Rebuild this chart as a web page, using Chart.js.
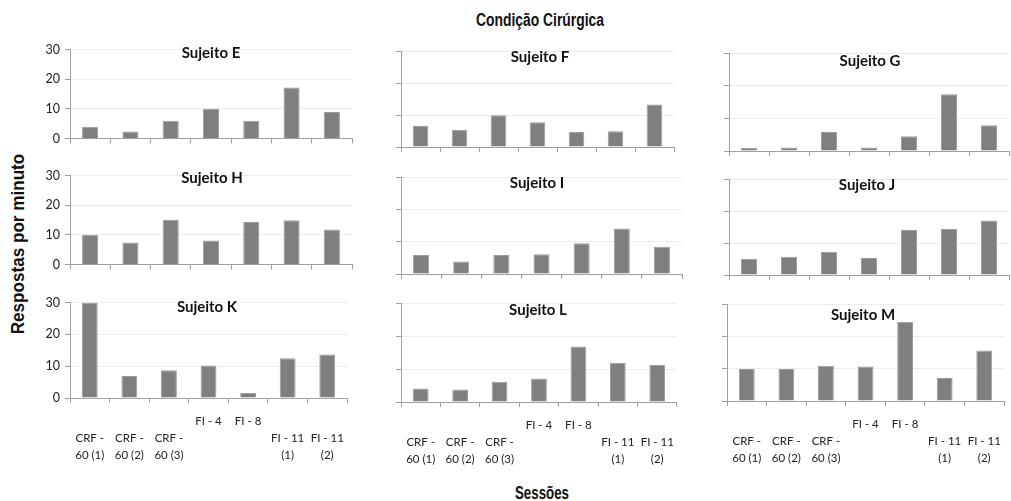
<!DOCTYPE html>
<html><head><meta charset="utf-8">
<script src="https://cdn.jsdelivr.net/npm/chart.js@4"></script>
<style>
html,body{margin:0;padding:0;background:#fff;overflow:hidden;width:1011px;height:501px;}
canvas{position:absolute;}
.t{position:absolute;font-family:"Liberation Sans",Arial,sans-serif;font-weight:bold;color:#111;white-space:nowrap;}
</style></head><body>
<div class="t" style="left:540px;top:20px;transform:translate(-50%,-50%) scaleX(0.77);font-size:18px;">Condição Cirúrgica</div>
<div class="t" style="left:542px;top:493px;transform:translate(-50%,-50%) scaleX(0.74);font-size:18px;">Sessões</div>
<div class="t" style="left:18px;top:244px;transform:translate(-50%,-50%) rotate(-90deg) scaleX(0.9);font-size:19px;">Respostas por minuto</div>
<script>
// ---- data ----
const categories = [["", "CRF -", "60 (1)"], ["", "CRF -", "60 (2)"], ["", "CRF -", "60 (3)"], ["FI - 4"], ["FI - 8"], ["", "FI - 11", "(1)"], ["", "FI - 11", "(2)"]];
const subjects = ["Sujeito E", "Sujeito F", "Sujeito G", "Sujeito H", "Sujeito I", "Sujeito J", "Sujeito K", "Sujeito L", "Sujeito M"];
const valuesE = [4.0, 2.4, 6.0, 10.0, 6.0, 17.2, 8.9];
const valuesF = [6.6, 5.4, 9.9, 7.7, 4.7, 4.9, 13.3];
const valuesG = [1.0, 1.1, 5.8, 1.1, 4.5, 17.4, 7.9];
const valuesH = [10.0, 7.4, 15.1, 8.1, 14.3, 14.9, 11.8];
const valuesI = [5.9, 3.9, 5.9, 6.1, 9.5, 14.1, 8.4];
const valuesJ = [5.1, 5.7, 7.3, 5.3, 14.1, 14.4, 17.0];
const valuesK = [30.0, 6.9, 8.7, 10.2, 1.6, 12.5, 13.7];
const valuesL = [4.1, 3.8, 6.1, 7.1, 16.8, 11.9, 11.2];
const valuesM = [9.9, 9.9, 10.9, 10.7, 24.5, 7.1, 15.6];
const yMin = 0, yMax = 30, yStep = 10;

// ---- layout (plot areas in page pixels) ----
const seriesList = [valuesE, valuesF, valuesG, valuesH, valuesI, valuesJ, valuesK, valuesL, valuesM];
const areas = [
  {l:70, t:47, r:352, b:143, tx:211, ty:6},
  {l:401, t:51, r:674, b:147, tx:540, ty:6},
  {l:729, t:53, r:1009, b:151, tx:870, ty:8},
  {l:70, t:173, r:352, b:269, tx:212, ty:5},
  {l:401, t:177, r:682, b:274, tx:537, ty:6.5},
  {l:729, t:179, r:1009, b:275, tx:867, ty:6.5},
  {l:70, t:300, r:352, b:398, tx:207, ty:7.5},
  {l:401, t:303, r:682, b:402, tx:538, ty:7},
  {l:727, t:304, r:1009, b:401, tx:863, ty:11}
];
const YW = 40, PT = 10, PR = 2;

const titlePlugin = {
  id: 'ptitle',
  afterDraw(chart, args, o) {
    const ctx = chart.ctx;
    ctx.save();
    ctx.font = 'bold 15px Lato, "Open Sans", sans-serif';
    ctx.fillStyle = '#111';
    ctx.textAlign = 'center';
    ctx.textBaseline = 'middle';
    ctx.fillText(o.text, o.x, o.y);
    ctx.restore();
  }
};

Chart.defaults.font.family = 'Lato, "Open Sans", sans-serif';
Chart.defaults.color = '#222';

areas.forEach((a, i) => {
  const col = i % 3, row = Math.floor(i / 3);
  const bottomRow = row === 2;
  const XH = bottomRow ? 66 : 8;
  const left = a.l - YW, top = a.t - PT;
  const w = (a.r - a.l) + YW + PR, h = (a.b - a.t) + PT + XH;
  const cv = document.createElement('canvas');
  cv.style.left = left + 'px'; cv.style.top = top + 'px';
  cv.style.width = w + 'px'; cv.style.height = h + 'px';
  cv.width = w; cv.height = h;
  document.body.appendChild(cv);
  new Chart(cv, {
    type: 'bar',
    data: {
      labels: categories,
      datasets: [{
        data: seriesList[i],
        backgroundColor: '#7f7f7f',
        borderColor: '#9c9c9c',
        borderWidth: 1,
        categoryPercentage: 1,
        barPercentage: 0.4
      }]
    },
    options: {
      responsive: false,
      animation: false,
      devicePixelRatio: 1,
      layout: {padding: {top: PT, right: PR, left: 0, bottom: 0}},
      plugins: {
        legend: {display: false},
        tooltip: {enabled: false},
        ptitle: {text: subjects[i], x: a.tx - left, y: PT + a.ty}
      },
      scales: {
        x: {
          offset: true,
          grid: {offset: true, drawOnChartArea: false, drawTicks: true, tickLength: 5, tickColor: '#a0a0a0'},
          border: {color: '#a0a0a0', width: 1},
          ticks: {display: bottomRow, autoSkip: false, maxRotation: 0, minRotation: 0, padding: 10,
                  font: {size: 11.5, lineHeight: '17px'}, color: '#222'},
          afterFit(s) { s.height = XH; }
        },
        y: {
          min: yMin, max: yMax,
          ticks: {stepSize: yStep, display: col === 0, padding: 5, font: {size: 12.5}, color: '#222'},
          grid: {color: '#ececec', drawTicks: true, tickLength: 5, tickColor: '#a0a0a0'},
          border: {color: '#a0a0a0', width: 1},
          afterFit(s) { s.width = YW; }
        }
      }
    },
    plugins: [titlePlugin]
  });
});
</script>
</body></html>
